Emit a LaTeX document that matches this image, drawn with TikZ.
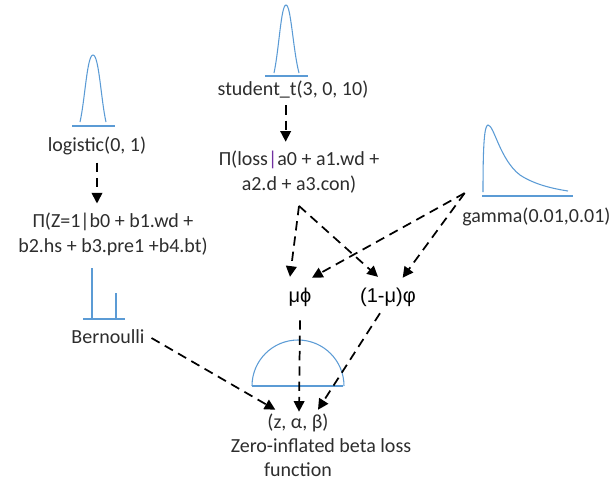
\documentclass[tikz,border=0pt]{standalone}
\usepackage{fontspec}
\setmainfont{Carlito}
\newfontfamily\arialf{Liberation Sans}
\usetikzlibrary{arrows.meta}
\definecolor{txt}{RGB}{45,45,45}
\definecolor{curve}{RGB}{91,155,213}
\definecolor{barp}{RGB}{112,48,160}
\begin{document}
\begin{tikzpicture}[x=0.75pt,y=-0.75pt,
  lbl/.style={inner sep=0pt, text=txt, font=\fontsize{15}{18.75}\selectfont, text height=11pt, text depth=3.5pt},
  mlbl/.style={inner sep=0pt, text=txt, font=\fontsize{15}{18.75}\selectfont, align=center},
  glbl/.style={inner sep=0pt, text=black, font=\arialf\fontsize{15}{18.75}\selectfont, text height=11pt, text depth=3.5pt},
  dist/.style={draw=curve, line width=0.8pt},
  arr/.style={draw=black, line width=1.3pt, dash pattern=on 7pt off 4.5pt, -{Triangle[length=8pt,width=8pt]}}]
\useasboundingbox (0,0) rectangle (614,486);

% distribution sketches
\draw[dist] (80,122) .. controls (85,100) and (87,55) .. (93,55) .. controls (99,55) and (101,100) .. (106,122);
\draw[dist] (72,126) -- (115,126);
\draw[dist] (274,73) .. controls (279,50) and (281,5) .. (286,5) .. controls (291,5) and (293,50) .. (299,73);
\draw[dist] (265,76) -- (308,76);
\draw[dist] (483,192) .. controls (483,150) and (484,125) .. (488,125) .. controls (494,125) and (500,160) .. (520,175) .. controls (535,185) and (555,189) .. (568,191);
\draw[dist] (482,196) -- (573,196);
\draw[dist] (92,268) -- (92,319);
\draw[dist] (116,293) -- (116,319);
\draw[dist] (83,319) -- (125,319);
\draw[dist] (252,386) arc[start angle=180, end angle=0, radius=34.5pt];
\draw[dist] (252,386) -- (343,386);

% labels
\node[lbl] (logistic) at (97,146) {logistic(0, 1)};
\node[mlbl] (piZ) at (113,234.5) {Π(Z=1|b0 + b1.wd +\\b2.hs + b3.pre1 +b4.bt)};
\node[lbl] (bern) at (108,338) {Bernoulli};
\node[lbl] (student) at (293,90) {student\_t(3, 0, 10)};
\node[mlbl] (piloss) at (299,172.5) {Π(loss{\color{barp}|}a0 + a1.wd +\\a2.d + a3.con)};
\node[lbl, anchor=west] (gamma) at (462,217) {gamma(0.01,0.01)};
\node[glbl] (mu) at (300,297) {μϕ};
\node[glbl] (onemu) at (388,297) {(1-μ)φ};
\node[lbl] (zab) at (298,423) {(z, α, β)};
\node[lbl] (zlab) at (321,447) {Zero-inflated beta loss};
\node[lbl] (zfun) at (298,471) {function};

\coordinate (lossapex) at ([yshift=-9pt]piloss.south);
\coordinate (gapex) at ([xshift=2pt,yshift=10.5pt]gamma.north west);

% connectors
\draw[arr] ([yshift=-5pt]logistic.south) -- ([yshift=7pt]logistic.south |- piZ.north);
\draw[arr] ([xshift=-5.5pt,yshift=-4pt]student.south) -- ([xshift=-5.5pt,yshift=7pt]student.south |- piloss.north);
\draw[arr] (lossapex) -- ([xshift=-7.5pt,yshift=7.7pt]mu.north);
\draw[arr] (lossapex) -- ([xshift=-7.5pt,yshift=7.7pt]onemu.north);
\draw[arr] (gapex) -- ([xshift=9pt,yshift=7pt]mu.north);
\draw[arr] (gapex) -- ([xshift=11pt,yshift=7pt]onemu.north);
\draw[arr] ([yshift=-10pt]mu.south) -- ([xshift=0.75pt,yshift=1pt]zab.north);
\draw[arr] ([xshift=-6pt,yshift=-4.7pt]onemu.south) -- ([xshift=15pt,yshift=2.5pt]zab.north);
\draw[arr] ([xshift=5pt]bern.east) -- ([xshift=-17pt,yshift=2.5pt]zab.north);
\end{tikzpicture}
\end{document}
